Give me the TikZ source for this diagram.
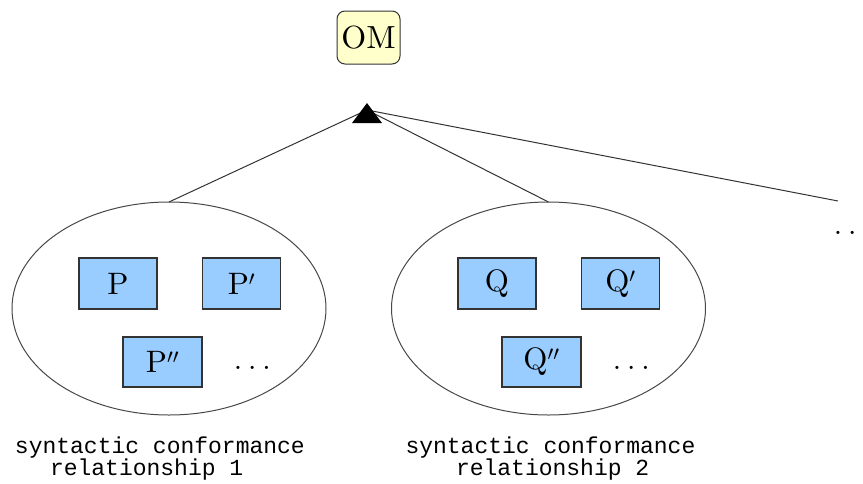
\documentclass[tikz,border=0pt]{standalone}
\usepackage{fontspec}
\newfontfamily\labelfont{Liberation Mono}
\newfontfamily\serifbig{lmroman10-regular.otf}
\usetikzlibrary{shapes.geometric}
\definecolor{notefill}{RGB}{255,255,204}
\definecolor{boxfill}{RGB}{153,204,255}
\definecolor{edge}{RGB}{51,51,51}
\newcommand\dotrow{.\kern6pt.\kern6pt.}
\begin{document}
\begin{tikzpicture}[x=1pt,y=-1pt,
  every node/.style={inner sep=0pt,outer sep=0pt},
  concept/.style={draw=edge,fill=notefill,line width=1pt,rounded corners=8pt,
    minimum width=63pt,minimum height=53pt,font=\serifbig\fontsize{32}{38}\selectfont},
  pbox/.style={draw=edge,fill=boxfill,line width=1.2pt,
    minimum width=78pt,minimum height=51pt,font=\serifbig\fontsize{31}{37}\selectfont},
  group/.style={draw=edge!90,ellipse,line width=1pt,
    minimum width=314pt,minimum height=213pt},
  link/.style={draw=edge,line width=1pt},
  more/.style={anchor=base west,font=\serifbig\fontsize{30}{36}\selectfont},
  caption/.style={anchor=base west,font=\labelfont\fontsize{23}{27}\selectfont}
]
\useasboundingbox (0,0) rectangle (863,483);

% top concept
\node[concept] (om) at (368.5,37.5) {OM};

% the two groups of related models
\node[group] (g1) at (169,308.5) {};
\node[group] (g2) at (548.5,308.5) {};

% junction under the concept
\coordinate (hub) at (367,110);
\coordinate (rest) at (838,201);
\draw[link] (hub) -- (g1.north);
\draw[link] (hub) -- (g2.north);
\draw[link] (hub) -- (rest);
\fill[black] (367,103) -- (382,123) -- (352,123) -- cycle;

% models in group 1
\node[pbox] (p1) at (118,283.5) {P};
\node[pbox] (p2) at (241.5,283.5) {P$'$};
\node[pbox,minimum height=50pt,minimum width=79pt] (p3) at (162.5,362) {P$''$};
\node[more] (pd) at (233.8,369.6) {\dotrow};

% models in group 2
\node[pbox] (q1) at (497,283.5) {Q};
\node[pbox] (q2) at (620.5,283.5) {Q$'$};
\node[pbox,minimum height=50pt,minimum width=79pt] (q3) at (541.5,362) {Q$''$};
\node[more] (qd) at (612.8,369.6) {\dotrow};

% further groups
\node[more] (rd) at (833.8,234.6) {\dotrow};

% captions
\node[caption] (c1a) at (15,453) {syntactic conformance};
\node[caption] (c1b) at (50,475.5) {relationship 1};
\node[caption] (c2a) at (405.5,453) {syntactic conformance};
\node[caption] (c2b) at (456,475.5) {relationship 2};
\end{tikzpicture}
\end{document}
